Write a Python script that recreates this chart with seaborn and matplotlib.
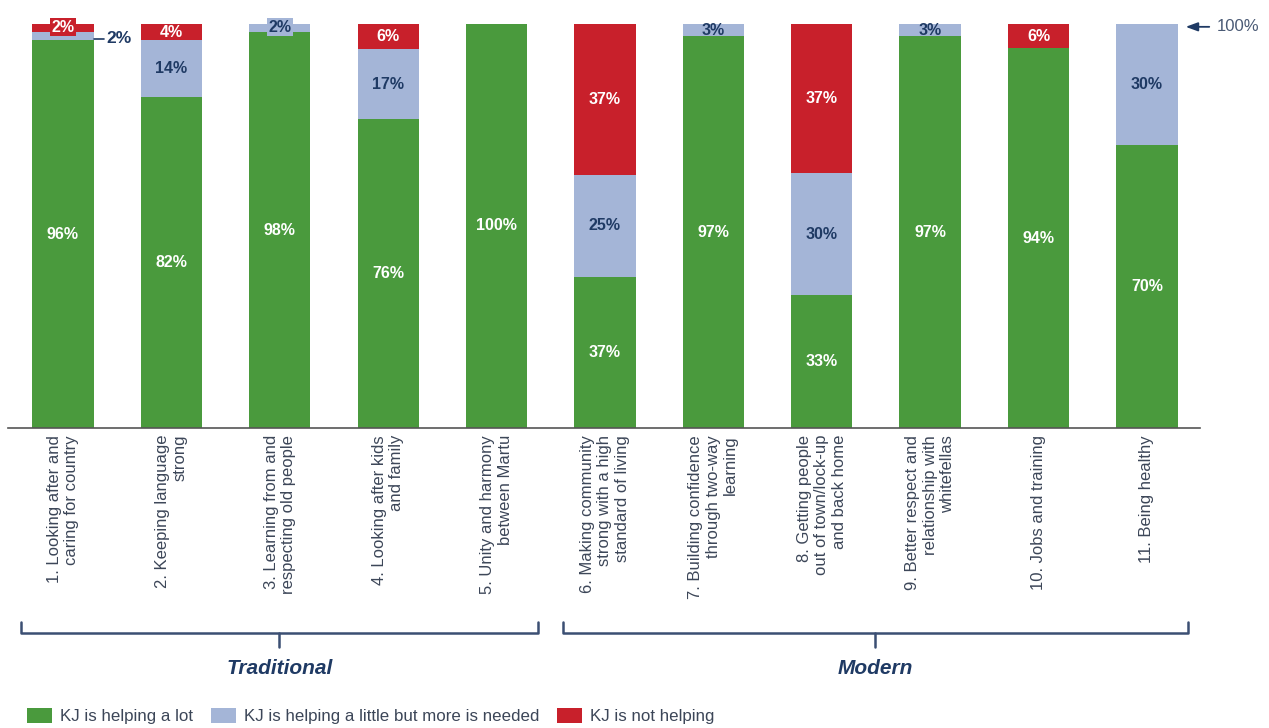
import matplotlib
matplotlib.use("Agg")
import matplotlib.pyplot as plt
import matplotlib.transforms as mtransforms
from matplotlib.patches import Patch
from matplotlib.lines import Line2D
import seaborn as sns
import numpy as np

# ---------------- data ----------------
categories = [
    "1. Looking after and\ncaring for country",
    "2. Keeping language\nstrong",
    "3. Learning from and\nrespecting old people",
    "4. Looking after kids\nand family",
    "5. Unity and harmony\nbetween Martu",
    "6. Making community\nstrong with a high\nstandard of living",
    "7. Building confidence\nthrough two-way\nlearning",
    "8. Getting people\nout of town/lock-up\nand back home",
    "9. Better respect and\nrelationship with\nwhitefellas",
    "10. Jobs and training",
    "11. Being healthy",
]
helping_lot = [96, 82, 98, 76.4, 100, 37.4, 97, 33, 97, 94, 70]
helping_little = [2, 14, 2, 17.4, 0, 25.2, 3, 30, 3, 0, 30]
not_helping = [2, 4, 0, 6.2, 0, 37.4, 0, 37, 0, 6, 0]
series_names = ["KJ is helping a lot", "KJ is helping a little but more is needed", "KJ is not helping"]
groups = [("Traditional", 0, 4), ("Modern", 5, 10)]

GREEN = "#4a9a3d"
BLUE = "#a4b5d7"
RED = "#c8202b"
NAVY = "#1f3a64"

# ---------------- style ----------------
sns.set_theme(style="white")
plt.rcParams["font.family"] = ["Liberation Sans", "DejaVu Sans"]

W, H = 1269, 728
fig = plt.figure(figsize=(W / 100, H / 100), dpi=100)
ax = fig.add_axes([8 / W, 1 - 428 / H, (1200 - 8) / W, (428 - 24) / H])

x = np.arange(len(categories))
g = np.array(helping_lot, float)
b = np.array(helping_little, float)
r = np.array(not_helping, float)
tot_gb = g + b
tot_all = g + b + r

bw = 0.565
sns.barplot(x=x, y=tot_all, color=RED, width=bw, saturation=1, ax=ax, native_scale=True, linewidth=0)
sns.barplot(x=x, y=tot_gb, color=BLUE, width=bw, saturation=1, ax=ax, native_scale=True, linewidth=0)
sns.barplot(x=x, y=g, color=GREEN, width=bw, saturation=1, ax=ax, native_scale=True, linewidth=0)

ax.set_xlim(-0.507, 10.49)
ax.set_ylim(0, 100)
ax.set_yticks([])
ax.set_ylabel("")
ax.set_xlabel("")
for s in ["top", "left", "right"]:
    ax.spines[s].set_visible(False)
ax.spines["bottom"].set_color("#555555")
ax.spines["bottom"].set_linewidth(1.2)

ax.set_xticks(x)
ax.set_xticklabels(categories, rotation=90, va="top", ha="center",
                   multialignment="right", fontsize=12, color="#3c4658")
ax.tick_params(axis="x", length=0, pad=5)

# ---------------- segment labels ----------------
fs = 11.5
for i in range(len(categories)):
    segs = [(g[i], 0, "white", GREEN), (b[i], g[i], NAVY, BLUE), (r[i], tot_gb[i], "white", RED)]
    for k, (val, base, tc, fc) in enumerate(segs):
        if val <= 0:
            continue
        top = base + val
        if val >= 3:
            ax.text(i, base + val / 2, f"{val:.0f}%", ha="center", va="center",
                    color=tc, fontsize=fs, fontweight="bold")
        elif top >= tot_all[i] - 0.01:
            # small top segment: boxed label sitting on the bar top
            ax.text(i, 99.2, f"{val:.0f}%", ha="center", va="center",
                    color=tc, fontsize=fs, fontweight="bold", clip_on=False,
                    bbox=dict(boxstyle="square,pad=0.1", fc=fc, ec="none"))
        else:
            # small inner segment: label outside with leader line
            ymid = base + val / 2 - 0.6
            ax.plot([i + bw / 2, i + bw / 2 + 0.1], [ymid, ymid], color=NAVY, lw=1.2, clip_on=False)
            ax.text(i + bw / 2 + 0.12, ymid, f"{val:.0f}%", ha="left", va="center",
                    color=NAVY, fontsize=fs + 1, fontweight="bold")

# ---------------- 100% marker ----------------
trans_xa = mtransforms.blended_transform_factory(ax.transAxes, ax.transData)
ax.annotate("100%", xy=(1.0 - 0.012, 99.3), xycoords=trans_xa,
            xytext=(1.014, 99.3), textcoords=trans_xa, va="center", ha="left",
            color="#4a5a75", fontsize=12, annotation_clip=False,
            arrowprops=dict(arrowstyle="-|>,head_length=0.6,head_width=0.22",
                            color=NAVY, lw=1.3, shrinkA=3, shrinkB=0))

# ---------------- group brackets ----------------
trans_bf = mtransforms.blended_transform_factory(ax.transData, fig.transFigure)
def fy(py):
    return 1 - py / H
BR = "#3b4f73"
for name, i0, i1 in groups:
    x0, x1 = i0 - 0.39, i1 + 0.38
    xm = (x0 + x1) / 2
    ylin = fy(633)
    fig.add_artist(Line2D([x0, x0, x1, x1], [fy(622), ylin, ylin, fy(622)],
                          transform=trans_bf, color=BR, lw=1.8))
    fig.add_artist(Line2D([xm, xm], [ylin, fy(647)], transform=trans_bf, color=BR, lw=1.8))
    fig.text(xm, fy(668), name, transform=trans_bf, ha="center", va="center",
             fontsize=15, fontweight="bold", fontstyle="italic", color=NAVY)

# ---------------- legend ----------------
handles = [Patch(facecolor=c, edgecolor="none", label=n) for c, n in zip([GREEN, BLUE, RED], series_names)]
fig.legend(handles=handles, loc="center left", bbox_to_anchor=(27 / W, fy(716)), ncol=3, frameon=False,
           fontsize=12.2, handlelength=1.5, handleheight=0.95, handletextpad=0.45, columnspacing=1.05,
           borderpad=0, borderaxespad=0, labelcolor="#3c4658")

fig.savefig("out.png", dpi=100)
